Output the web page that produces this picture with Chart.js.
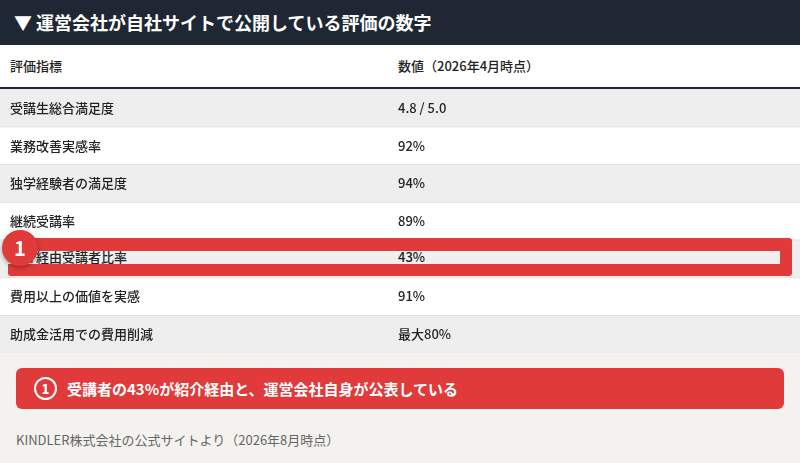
<!DOCTYPE html>
<html><head><meta charset="utf-8">
<script src="https://cdn.jsdelivr.net/npm/chart.js@4"></script>
<style>
body{margin:0;width:800px;height:463px;background:#f4f2ee;font-family:"Noto Sans CJK JP","Noto Sans",sans-serif;position:relative;overflow:hidden}
#hd{position:absolute;left:0;top:0;width:800px;height:45px;background:#1e2733;color:#fff;font-weight:bold;font-size:18px;line-height:45px;padding-left:14px;box-sizing:border-box}
#th{position:absolute;left:0;top:45px;width:800px;height:42px;background:#fff;border-bottom:2px solid #1e2733;font-size:13px;color:#222;line-height:42px;font-weight:500}
#th span{position:absolute}
#wrap{position:absolute;left:0;top:89px;width:800px;height:264px}
#note{position:absolute;left:16px;top:368px;width:768px;height:41px;background:#e03a3a;border-radius:6px;color:#fff;font-weight:bold;font-size:15px;line-height:41px;padding-left:18px;box-sizing:border-box}
#note b{display:inline-block;width:19px;height:19px;border:2px solid #fff;border-radius:50%;text-align:center;line-height:19px;font-size:13px;margin-right:10px;vertical-align:middle;position:relative;top:-2px}
#src{position:absolute;left:16px;top:430px;font-size:13px;color:#666}
#hl{position:absolute;left:8px;top:238px;width:784px;height:38px;background:#e03a3a;border-radius:3px}
#strip{position:absolute;left:8px;top:251px;width:772px;height:13px;background:#efefef;overflow:hidden}
#strip span{position:absolute;top:-4px;font-size:13px;font-weight:500;color:#222;line-height:20px}
#badge{position:absolute;left:2px;top:230px;width:36px;height:36px;border-radius:50%;background:#e03a3a;color:#fff;font-weight:bold;font-size:20px;text-align:center;line-height:36px;box-shadow:0 2px 4px rgba(0,0,0,.3)}
</style></head><body>
<div id="hd">▼ 運営会社が自社サイトで公開している評価の数字</div>
<div id="th"><span style="left:10px">評価指標</span><span style="left:398px">数値（2026年4月時点）</span></div>
<div id="wrap"><canvas id="c"></canvas></div>
<div id="hl"></div>
<div id="strip"><span style="left:2px">紹介経由受講者比率</span><span style="left:390px">43%</span></div>
<div id="badge">1</div>
<div id="note"><b>1</b>受講者の43%が紹介経由と、運営会社自身が公表している</div>
<div id="src">KINDLER株式会社の公式サイトより（2026年8月時点）</div>
<script>
const metrics = ['受講生総合満足度','業務改善実感率','独学経験者の満足度','継続受講率','紹介経由受講者比率','費用以上の価値を実感','助成金活用での費用削減'];
const values = ['4.8 / 5.0','92%','94%','89%','43%','91%','最大80%'];
const rowFill = [1,1,1,1,1,1,1];
const stripe = metrics.map((m,i)=> i%2===0 ? '#eeeeee' : '#ffffff');
const textPlugin = {
  id:'rowText',
  afterDatasetsDraw(chart){
    const {ctx, scales:{y}} = chart;
    ctx.save();
    ctx.font = '500 13px "Noto Sans CJK JP", sans-serif';
    ctx.textBaseline = 'middle';
    metrics.forEach((m,i)=>{
      const py = y.getPixelForValue(i);
      ctx.fillStyle = '#222';
      ctx.fillText(m, 10, py);
      ctx.fillText(values[i], 398, py);
      ctx.fillStyle = '#e2e2e2';
      ctx.fillRect(0, py + 18.5, 800, 1);
    });
    ctx.restore();
  }
};
new Chart(document.getElementById('c'), {
  type:'bar',
  data:{labels:metrics, datasets:[{data:rowFill, backgroundColor:stripe, barPercentage:1, categoryPercentage:1}]},
  options:{
    indexAxis:'y', responsive:true, maintainAspectRatio:false, animation:false,
    layout:{padding:0},
    plugins:{legend:{display:false}, tooltip:{enabled:false}},
    scales:{x:{display:false, min:0, max:1}, y:{display:false}}
  },
  plugins:[textPlugin]
});
</script>
</body></html>
